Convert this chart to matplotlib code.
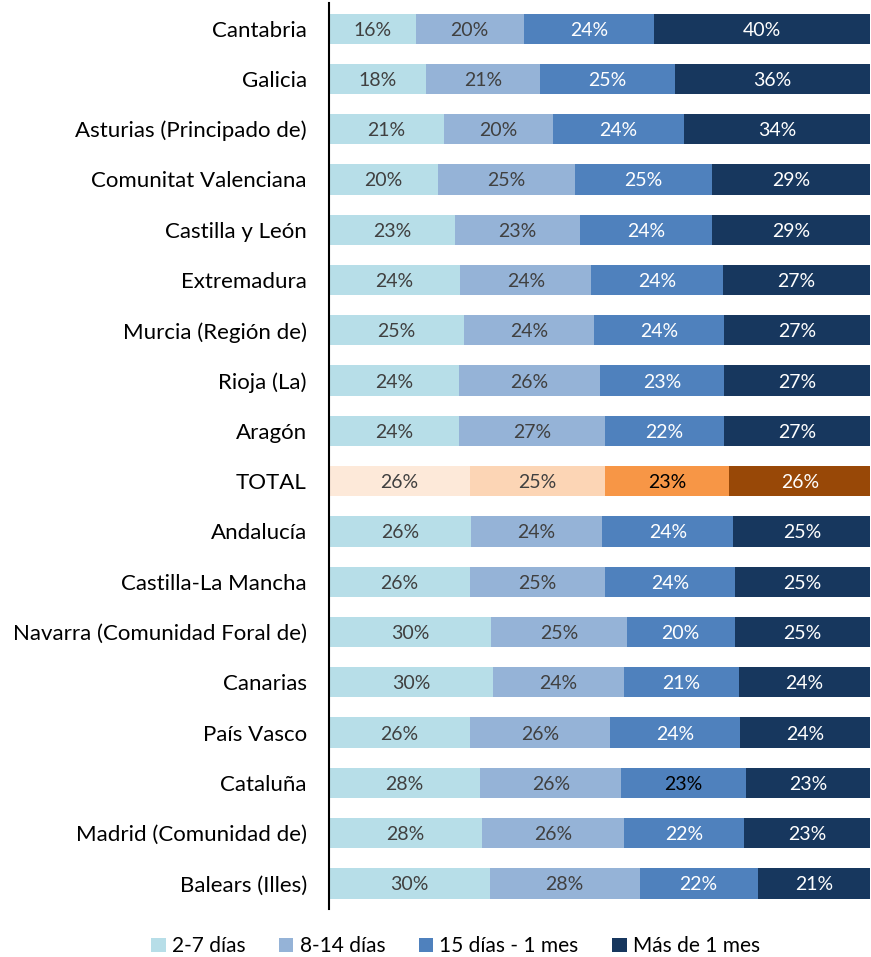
import numpy as np
import matplotlib.pyplot as plt
from matplotlib.patches import Patch

plt.rcParams['font.family'] = ['Lato', 'DejaVu Sans']

regiones = ['Cantabria', 'Galicia', 'Asturias (Principado de)', 'Comunitat Valenciana',
            'Castilla y León', 'Extremadura', 'Murcia (Región de)', 'Rioja (La)', 'Aragón',
            'TOTAL', 'Andalucía', 'Castilla-La Mancha', 'Navarra (Comunidad Foral de)',
            'Canarias', 'País Vasco', 'Cataluña', 'Madrid (Comunidad de)', 'Balears (Illes)']

d2_7 = [16, 18, 21, 20, 23, 24, 25, 24, 24, 26, 26, 26, 30, 30, 26, 28, 28, 30]
d8_14 = [20, 21, 20, 25, 23, 24, 24, 26, 27, 25, 24, 25, 25, 24, 26, 26, 26, 28]
d15_30 = [24, 25, 24, 25, 24, 24, 24, 23, 22, 23, 24, 24, 20, 21, 24, 23, 22, 22]
mas_30 = [40, 36, 34, 29, 29, 27, 27, 27, 27, 26, 25, 25, 25, 24, 24, 23, 23, 21]

series = ['2-7 días', '8-14 días', '15 días - 1 mes', 'Más de 1 mes']
colores = ['#B7DEE8', '#95B3D7', '#4F81BD', '#17375E']
colores_total = ['#FDE9D9', '#FCD5B5', '#F79646', '#984807']
texto = ['#404040', '#404040', 'white', 'white']

datos = np.array([d2_7, d8_14, d15_30, mas_30], dtype=float)
# 100% apilado: cada fila se normaliza a su suma
pct = datos / datos.sum(axis=0) * 100

fig = plt.figure(figsize=(8.71, 9.57), dpi=100)
ax = fig.add_axes([0.3777, 0.0506, 0.6213, 0.9458])

y = np.arange(len(regiones))
izq = np.zeros(len(regiones))
for i in range(4):
    cols = [colores_total[i] if r == 'TOTAL' else colores[i] for r in regiones]
    ax.barh(y, pct[i], left=izq, height=0.6, color=cols, edgecolor='none')
    for j, r in enumerate(regiones):
        c = texto[i]
        if i == 2 and r in ('TOTAL', 'Cataluña'):
            c = 'black'
        ax.text(izq[j] + pct[i][j] / 2, y[j], f'{int(datos[i][j])}%', ha='center',
                va='center_baseline', fontsize=14, color=c)
    izq += pct[i]

ax.set_xlim(0, 100)
ax.set_ylim(len(regiones) - 0.5, -0.5)
ax.set_yticks(y)
ax.set_yticklabels(regiones, fontsize=16, color='black')
ax.tick_params(axis='y', length=0, pad=16)
ax.set_xticks([])
for s in ['top', 'right', 'bottom']:
    ax.spines[s].set_visible(False)
ax.spines['left'].set_linewidth(1.5)

handles = [Patch(facecolor=c, label=s) for c, s in zip(colores, series)]
fig.legend(handles=handles, loc='center', bbox_to_anchor=(0.523, 0.011), ncol=4, frameon=False,
           fontsize=15, handlelength=0.7, handleheight=0.7, handletextpad=0.3, columnspacing=1.6)

fig.savefig('out.png', dpi=100)
